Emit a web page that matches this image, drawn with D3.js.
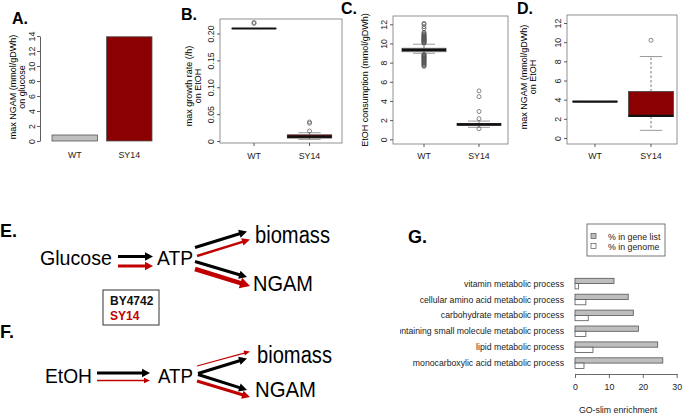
<!DOCTYPE html>
<html><head><meta charset="utf-8">
<script src="https://cdn.jsdelivr.net/npm/d3@7"></script>
<style>
body{margin:0;background:#fff}
svg{display:block}
text{font-family:"Liberation Sans",Arial,Helvetica,sans-serif}
</style>
</head><body>
<svg id="c" width="685" height="415"></svg>
<script>
// ---------- data ----------
const groups = ["WT", "SY14"];
// A: max NGAM on glucose
const ngamGlucose = [0.8, 13.9];
const ticksA = [0, 2, 4, 6, 8, 10, 12, 14];
// B: max growth rate on EtOH  [low whisker, q1, median, q3, high whisker]
const growthBox = [[0.2093, 0.2093, 0.2093, 0.2093, 0.2093], [0.003, 0.0055, 0.008, 0.0115, 0.0154]];
const growthOut = [[0.2186, 0.2205], [0.0186, 0.033, 0.0353]];
const ticksB = [0, 0.05, 0.10, 0.15, 0.20];
const tickLabelsB = ["0", "0.05", "0.10", "0.15", "0.20"];
// C: EtOH consumption
const etohBox = [[8.98, 9.14, 9.33, 9.5, 9.92], [1.25, 1.45, 1.55, 1.65, 1.9]];
const etohOutWT = [10.02, 10.07, 10.11, 10.18, 10.22, 10.27, 10.33, 10.38, 10.41, 10.47, 10.52, 10.58,
  10.63, 10.69, 10.74, 10.8, 10.86, 10.93, 11.0, 11.08, 11.18, 11.55, 11.75, 12.0, 12.1,
  8.88, 8.83, 8.77, 8.71, 8.66, 8.6, 8.55, 8.49, 8.43, 8.37, 8.3, 8.24, 8.19, 8.12, 8.05,
  7.98, 7.9, 7.83, 7.76, 7.68, 7.6];
const etohOutSY14 = [5.05, 4.45, 2.9, 2.15, 1.1];
const ticksC = [0, 2, 4, 6, 8, 10, 12];
// D: max NGAM on EtOH
const ngamEtohBox = [[3.8, 3.8, 3.8, 3.8, 3.8], [0.8, 2.25, 2.3, 4.85, 8.5]];
const ngamEtohOut = [[], [10.2]];
const ticksD = [0, 2, 4, 6, 8, 10, 12];
// G: GO-slim enrichment
const goTerms = ["vitamin metabolic process", "cellular amino acid metabolic process",
  "carbohydrate metabolic process", "nucleobase-containing small molecule metabolic process",
  "lipid metabolic process", "monocarboxylic acid metabolic process"];
const pctGeneList = [11.5, 15.7, 17.2, 18.7, 24.4, 25.9];
const pctGenome = [1.0, 3.2, 3.9, 3.2, 5.3, 2.65];
const ticksG = [0, 10, 20, 30];
const legendG = ["% in gene list", "% in genome"];

// ---------- styles ----------
const GRAY = "#bebebe", DARKRED = "#8b0000", DRED = "#c00000";
const FS = 8.8;
const svg = d3.select("#c");
svg.append("defs").append("clipPath").attr("id", "clipG")
  .append("rect").attr("x", 400).attr("y", 215).attr("width", 285).attr("height", 200);

function panelLabel(t, x, y, size) {
  svg.append("text").attr("x", x).attr("y", y).attr("font-weight", "bold")
    .attr("font-size", size).text(t);
}
function yTitle(lines, xs, cy) {
  lines.forEach((l, i) => {
    svg.append("text").attr("transform", `translate(${xs[i]},${cy}) rotate(-90)`)
      .attr("text-anchor", "middle").attr("font-size", 9).text(l);
  });
}
function leftAxis(x, y, vals, labels, off, showDomain) {
  const ax = d3.axisLeft(y).tickValues(vals).tickSize(3).tickSizeOuter(0)
    .tickFormat((d, i) => labels ? labels[i] : d);
  const g = svg.append("g").attr("transform", `translate(${x},0)`).call(ax);
  if (!showDomain) g.select(".domain").remove();
  else g.select(".domain").attr("stroke", "#333").attr("stroke-width", 0.8);
  g.selectAll(".tick line").attr("stroke", "#333").attr("stroke-width", 0.8);
  g.selectAll("text").attr("x", null).attr("dy", null).attr("font-size", FS)
    .attr("font-family", '"Liberation Sans",Arial,sans-serif')
    .attr("fill", "#222")
    .attr("text-anchor", "middle")
    .attr("transform", `translate(${-off},0) rotate(-90)`);
  return g;
}
function xLabels(xs, yBase, tickTop) {
  groups.forEach((gname, i) => {
    if (tickTop != null) {
      svg.append("line").attr("x1", xs(i + 1)).attr("x2", xs(i + 1))
        .attr("y1", tickTop).attr("y2", tickTop + 3).attr("stroke", "#333").attr("stroke-width", 0.8);
    }
    svg.append("text").attr("x", xs(i + 1)).attr("y", yBase).attr("text-anchor", "middle")
      .attr("font-size", FS).attr("fill", "#222").text(gname);
  });
}
function frame(x0, y0, x1, y1) {
  svg.append("rect").attr("x", x0).attr("y", y0).attr("width", x1 - x0).attr("height", y1 - y0)
    .attr("fill", "none").attr("stroke", "#777").attr("stroke-width", 0.8);
}
function boxplot(xs, y, stats, outs, fills) {
  stats.forEach((s, i) => {
    const cx = xs(i + 1), hw = (xs(1.4) - xs(1)), cw = hw / 2;
    const [lo, q1, md, q3, hi] = s;
    const g = svg.append("g");
    g.append("line").attr("x1", cx).attr("x2", cx).attr("y1", y(q3)).attr("y2", y(hi))
      .attr("stroke", "#555").attr("stroke-width", 0.8).attr("stroke-dasharray", "2.5,2");
    g.append("line").attr("x1", cx).attr("x2", cx).attr("y1", y(q1)).attr("y2", y(lo))
      .attr("stroke", "#555").attr("stroke-width", 0.8).attr("stroke-dasharray", "2.5,2");
    [lo, hi].forEach(v => g.append("line").attr("x1", cx - cw).attr("x2", cx + cw)
      .attr("y1", y(v)).attr("y2", y(v)).attr("stroke", "#9a9a9a").attr("stroke-width", 1));
    g.append("rect").attr("x", cx - hw).attr("width", 2 * hw)
      .attr("y", y(q3)).attr("height", Math.max(0.01, y(q1) - y(q3)))
      .attr("fill", fills[i]).attr("stroke", "#444").attr("stroke-width", 0.8);
    g.append("line").attr("x1", cx - hw).attr("x2", cx + hw).attr("y1", y(md)).attr("y2", y(md))
      .attr("stroke", "#111").attr("stroke-width", 2.2);
    (outs[i] || []).forEach(v => g.append("circle").attr("cx", cx).attr("cy", y(v)).attr("r", 2)
      .attr("fill", "none").attr("stroke", "#555").attr("stroke-width", 0.7));
  });
}

// ---------- Panel A ----------
panelLabel("A.", 12, 23.5, 16);
const xA = d3.scaleLinear().domain([0.2, 2.4]).range([52, 152]);
const yA = d3.scaleLinear().domain([0, 14]).range([141, 36]);
svg.append("g").selectAll("rect").data(ngamGlucose).join("rect")
  .attr("x", (d, i) => xA(0.2 + i * 1.2)).attr("width", xA(1.2) - xA(0.2))
  .attr("y", d => yA(d)).attr("height", d => yA(0) - yA(d))
  .attr("fill", (d, i) => i === 0 ? GRAY : DARKRED).attr("stroke", "#555").attr("stroke-width", 0.8);
leftAxis(40, yA, ticksA, null, 5, true);
yTitle(["max NGAM (mmol/gDWh)", "on glucose"], [16, 25], 87);
groups.forEach((g, i) => svg.append("text").attr("x", xA(0.7 + i * 1.2)).attr("y", 158)
  .attr("text-anchor", "middle").attr("font-size", FS).attr("fill", "#222").text(g));

// ---------- Panel B ----------
panelLabel("B.", 181, 20, 16);
const xB = d3.scaleLinear().domain([1, 2]).range([254, 309.5]);
const yB = d3.scaleLinear().domain([0, 0.2]).range([141, 33.5]);
boxplot(xB, yB, growthBox, growthOut, [GRAY, DARKRED]);
frame(220, 19, 342, 143);
leftAxis(220, yB, ticksB, tickLabelsB, 6, false);
yTitle(["max growth rate (/h)", "on EtOH"], [192, 200.5], 86);
xLabels(xB, 159, 143);

// ---------- Panel C ----------
panelLabel("C.", 341, 13.5, 16);
const xC = d3.scaleLinear().domain([1, 2]).range([424, 479]);
const yC = d3.scaleLinear().domain([0, 12]).range([139.3, 24.3]);
boxplot(xC, yC, etohBox, [etohOutWT, etohOutSY14], [GRAY, DARKRED]);
frame(393, 16, 508, 144);
leftAxis(393, yC, ticksC, null, 6, false);
yTitle(["EtOH consumption (mmol/gDWh)"], [368], 80);
xLabels(xC, 159, 144);

// ---------- Panel D ----------
panelLabel("D.", 517, 14, 16);
const xD = d3.scaleLinear().domain([1, 2]).range([595, 651]);
const yD = d3.scaleLinear().domain([0, 12]).range([138, 23]);
boxplot(xD, yD, ngamEtohBox, ngamEtohOut, [GRAY, DARKRED]);
frame(567, 15, 677, 144);
leftAxis(567, yD, ticksD, null, 6, false);
yTitle(["max NGAM (mmol/gDWh)", "on EtOH"], [527, 535.5], 77);
xLabels(xD, 159, 144);

// ---------- Panels E / F (diagram) ----------
panelLabel("E.", 0, 237, 18);
panelLabel("F.", 0, 338, 18);
const dia = svg.append("g");
const diaWords = [
  ["Glucose", 40, 265, 72, 21], ["ATP", 157, 265, 36, 21], ["biomass", 255, 243, 75, 23], ["NGAM", 253, 291, 60, 22],
  ["EtOH", 45, 383, 47, 21], ["ATP", 158, 383, 35, 21], ["biomass", 257, 362.5, 75, 23], ["NGAM", 255, 397, 61, 22]
];
diaWords.forEach(([t, x, y, w, s]) => dia.append("text").attr("x", x).attr("y", y)
  .attr("font-family", '"Open Sans",sans-serif').attr("font-weight", 300).attr("font-size", s)
  .attr("textLength", w).attr("lengthAdjust", "spacingAndGlyphs").text(t));
function arrow(x1, y1, x2, y2, color, w, hl, hw) {
  const dx = x2 - x1, dy = y2 - y1, len = Math.hypot(dx, dy), ux = dx / len, uy = dy / len;
  const bx = x2 - ux * hl, by = y2 - uy * hl;
  dia.append("line").attr("x1", x1).attr("y1", y1).attr("x2", bx + ux * 1).attr("y2", by + uy * 1)
    .attr("stroke", color).attr("stroke-width", w);
  dia.append("polygon").attr("fill", color).attr("points",
    `${x2},${y2} ${bx - uy * hw},${by + ux * hw} ${bx + uy * hw},${by - ux * hw}`);
}
const arrowsEF = [
  [118, 256.5, 153, 256.5, "#000", 3, 8, 4.2],
  [118, 266, 153, 266, DRED, 3, 8, 4.2],
  [195, 247.5, 247, 231.5, "#000", 3, 8, 4.2],
  [197, 256, 250, 239.5, DRED, 2.5, 8, 3.8],
  [195, 261.5, 247, 277, "#000", 3, 8, 4.2],
  [195, 269, 250, 286, DRED, 4.5, 10, 5.5],
  [97, 373, 150, 373, "#000", 3, 8, 4.2],
  [97, 380.5, 150, 380.5, DRED, 1.4, 6, 2.8],
  [197, 366, 250, 351.5, DRED, 1.2, 6, 2.6],
  [198, 373.5, 247, 358.5, "#000", 3, 8, 4.2],
  [198, 374.5, 247, 390, "#000", 3, 8, 4.2],
  [197, 381, 250, 397, DRED, 3, 8, 4.2]
];
arrowsEF.forEach(a => arrow(...a));
svg.append("rect").attr("x", 103).attr("y", 290).attr("width", 56).attr("height", 35)
  .attr("fill", "#fff").attr("stroke", "#333").attr("stroke-width", 1);
svg.append("text").attr("x", 110).attr("y", 305).attr("font-weight", "bold").attr("font-size", 12)
  .attr("fill", "#111").text("BY4742");
svg.append("text").attr("x", 110).attr("y", 320).attr("font-weight", "bold").attr("font-size", 12)
  .attr("fill", DRED).text("SY14");

// ---------- Panel G ----------
panelLabel("G.", 408, 243, 18);
const xG = d3.scaleLinear().domain([0, 30]).range([575, 676.7]);
const yG = d3.scaleBand().domain(goTerms).range([278.3, 368.4]).paddingInner(1 / 3).paddingOuter(0);
const bh = yG.bandwidth() / 2;
const gG = svg.append("g").attr("clip-path", "url(#clipG)");
gG.selectAll("rect.gl").data(pctGeneList).join("rect").attr("class", "gl")
  .attr("x", xG(0)).attr("y", (d, i) => yG(goTerms[i])).attr("height", bh)
  .attr("width", d => xG(d) - xG(0)).attr("fill", GRAY).attr("stroke", "#555").attr("stroke-width", 0.8);
gG.selectAll("rect.gn").data(pctGenome).join("rect").attr("class", "gn")
  .attr("x", xG(0)).attr("y", (d, i) => yG(goTerms[i]) + bh).attr("height", bh)
  .attr("width", d => xG(d) - xG(0)).attr("fill", "#fff").attr("stroke", "#555").attr("stroke-width", 0.8);
gG.selectAll("text.lab").data(goTerms).join("text").attr("class", "lab")
  .attr("x", 564).attr("y", d => yG(d) + yG.bandwidth() / 2 + 3).attr("text-anchor", "end")
  .attr("font-size", 8.7).attr("fill", "#222").text(d => d);
const axG = d3.axisBottom(xG).tickValues(ticksG).tickSize(4).tickSizeOuter(0);
const gax = svg.append("g").attr("transform", "translate(0,374)").call(axG);
gax.select(".domain").attr("stroke", "#444").attr("stroke-width", 0.8);
gax.selectAll(".tick line").attr("stroke", "#444").attr("stroke-width", 0.8);
gax.selectAll("text").attr("font-size", FS).attr("fill", "#222")
  .attr("font-family", '"Liberation Sans",Arial,sans-serif').attr("y", 10).attr("dy", "0.71em");
svg.append("text").attr("x", 618).attr("y", 413).attr("text-anchor", "middle")
  .attr("font-size", FS).attr("fill", "#222").text("GO-slim enrichment");
svg.append("rect").attr("x", 587).attr("y", 224).attr("width", 78).attr("height", 32)
  .attr("fill", "#fff").attr("stroke", "#555").attr("stroke-width", 0.8);
legendG.forEach((t, i) => {
  svg.append("rect").attr("x", 591).attr("y", 233.5 + i * 10).attr("width", 5).attr("height", 5)
    .attr("fill", i === 0 ? GRAY : "#fff").attr("stroke", "#555").attr("stroke-width", 0.7);
  svg.append("text").attr("x", 608).attr("y", 239.5 + i * 10).attr("font-size", FS)
    .attr("fill", "#222").text(t);
});
</script>
</body></html>
